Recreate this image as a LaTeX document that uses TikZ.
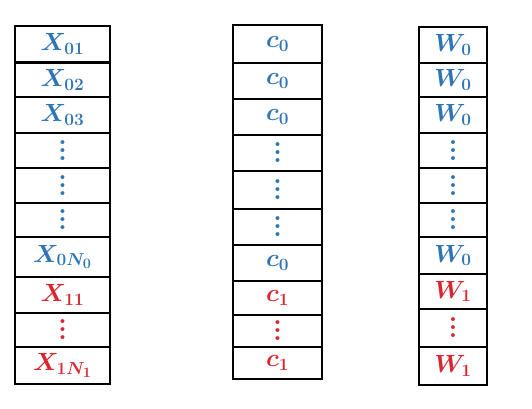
\documentclass[tikz,border=0pt]{standalone}
\usepackage{amsmath}
\usepackage{xcolor}
\usepackage{tikz}
\usetikzlibrary{positioning}
\definecolor{groupzero}{HTML}{2E75B6}
\definecolor{groupone}{HTML}{D9262F}
\newcommand{\cellvdots}{\vbox{\baselineskip=8pt\lineskiplimit=0pt
  \hbox{\bfseries.}\hbox{\bfseries.}\hbox{\bfseries.}}}

\begin{document}
\begin{tikzpicture}[
x=1pt,y=-1pt,
Cells/.style={draw=black,line width=2.6pt,rectangle,inner sep=0pt,
  font=\fontsize{27}{32}\selectfont\boldmath},
XCells/.style={Cells,minimum width=95pt},
CCells/.style={Cells,minimum width=89pt},
WCells/.style={Cells,minimum width=68pt}
]
\useasboundingbox (0,0) rectangle (532,408);

% samples X
\foreach \yt/\yb/\lab/\clr [count=\i] in {
26/62.5/X_{01}/groupzero, 62.5/97/X_{02}/groupzero, 97/133/X_{03}/groupzero,
133/168/\cellvdots/groupzero, 168/203/\cellvdots/groupzero, 203/237/\cellvdots/groupzero,
237/277/X_{0N_0}/groupzero, 277/313/X_{11}/groupone, 313/347/\cellvdots/groupone,
347/384/X_{1N_1}/groupone}
  \node[XCells,text=\clr,minimum height={\yb-\yt}] (x\i) at (62.5,{(\yt+\yb)/2}) {$\lab$};

% labels c
\foreach \yt/\yb/\lab/\clr [count=\i] in {
25/63/c_0/groupzero, 63/99/c_0/groupzero, 99/135/c_0/groupzero,
135/171/\cellvdots/groupzero, 171/209/\cellvdots/groupzero, 209/245/\cellvdots/groupzero,
245/281/c_0/groupzero, 281/315/c_1/groupone, 315/347/\cellvdots/groupone,
347/379/c_1/groupone}
  \node[CCells,text=\clr,minimum height={\yb-\yt}] (c\i) at (277.5,{(\yt+\yb)/2}) {$\lab$};

% weights W
\foreach \yt/\yb/\lab/\clr [count=\i] in {
27/63/W_0/groupzero, 63/97/W_0/groupzero, 97/133/W_0/groupzero,
133/168/\cellvdots/groupzero, 168/203/\cellvdots/groupzero, 203/237/\cellvdots/groupzero,
237/274/W_0/groupzero, 274/309/W_1/groupone, 309/347/\cellvdots/groupone,
347/385/W_1/groupone}
  \node[WCells,text=\clr,minimum height={\yb-\yt}] (w\i) at (453,{(\yt+\yb)/2}) {$\lab$};

\end{tikzpicture}
\end{document}
